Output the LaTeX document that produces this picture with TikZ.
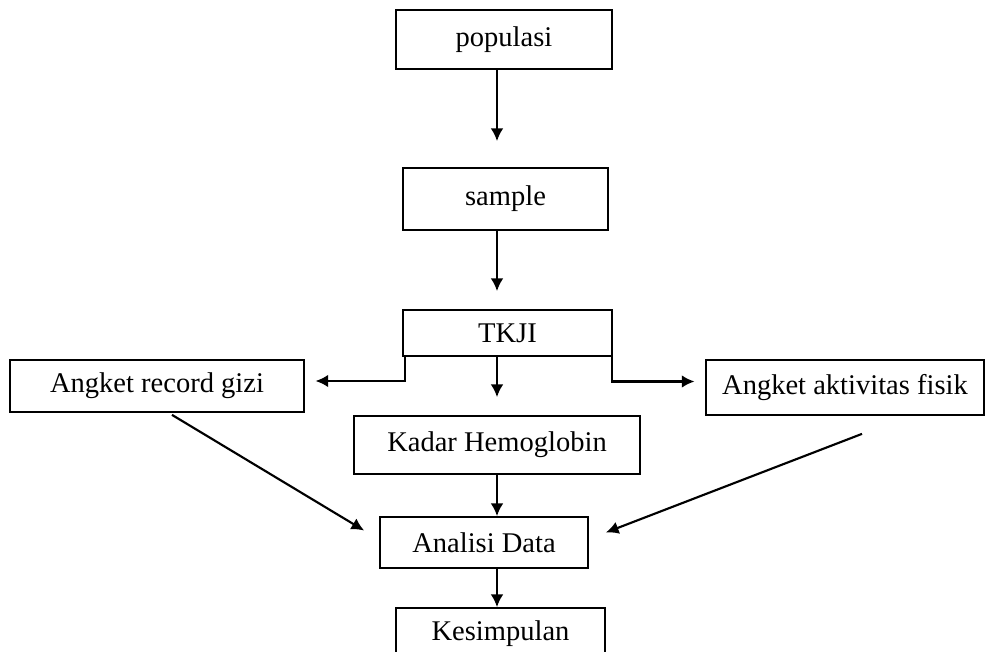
\documentclass[tikz,border=0pt]{standalone}
\usepackage{fontspec}
\setmainfont{Liberation Serif}
\usetikzlibrary{positioning,arrows.meta,calc}

\begin{document}
\begin{tikzpicture}[
  x=0.75pt, y=-0.75pt,
  >={Latex[length=9.5pt,width=9.5pt]},
  box/.style={draw, line width=1.3pt, inner sep=0pt, align=center,
              font=\fontsize{21.4}{25}\selectfont},
  arr/.style={->, line width=1.6pt}]
  \useasboundingbox (0,0) rectangle (992,652);
  % main column
  \node[box, minimum width=162pt, minimum height=44.25pt] (populasi) at (504,39.5) {populasi};
  \node[box, minimum width=153.75pt, minimum height=46.5pt] (sample) at (505.5,199) {sample};
  \node[box, minimum width=156.75pt, minimum height=34.5pt] (tkji) at (507.5,333) {TKJI};
  \node[box, minimum width=214.5pt, minimum height=43.5pt] (kadar) at (497,445) {Kadar Hemoglobin};
  \node[box, minimum width=156pt, minimum height=38.25pt] (analisi) at (484,542.5) {Analisi Data};
  \node[box, minimum width=156.75pt, minimum height=39pt] (kesimpulan) at (500.5,634) {Kesimpulan};
  % side boxes
  \node[box, minimum width=220.5pt, minimum height=39pt] (gizi) at (157,386) {Angket record gizi};
  \node[box, minimum width=208.5pt, minimum height=41.25pt] (fisik) at (845,387.5) {Angket aktivitas\ fisik};
  % arrows
  \draw[arr, shorten >=19.5pt] (populasi.south -| kadar) -- (sample.north -| kadar);
  \foreach \a/\b in {sample/tkji, tkji/kadar}
    \draw[arr, shorten >=13.5pt] (\a.south -| kadar) -- (\b.north -| kadar);
  \foreach \a/\b in {kadar/analisi, analisi/kesimpulan}
    \draw[arr] (\a.south -| kadar) -- (\b.north -| kadar);
  \draw[arr, shorten >=8pt] ($(tkji.south west)+(3,0)$) |- ($(gizi.east)+(0,-5)$);
  \draw[arr, shorten >=8pt] ($(tkji.south east)+(-1,0)$) |- ($(fisik.west)+(0,-6)$);
  \draw[arr] ($(gizi.south)+(15,2)$) -- ($(analisi.west)+(-15,-12)$);
  \draw[arr] ($(fisik.south)+(17,18)$) -- ($(analisi.east)+(17,-10)$);
\end{tikzpicture}
\end{document}
